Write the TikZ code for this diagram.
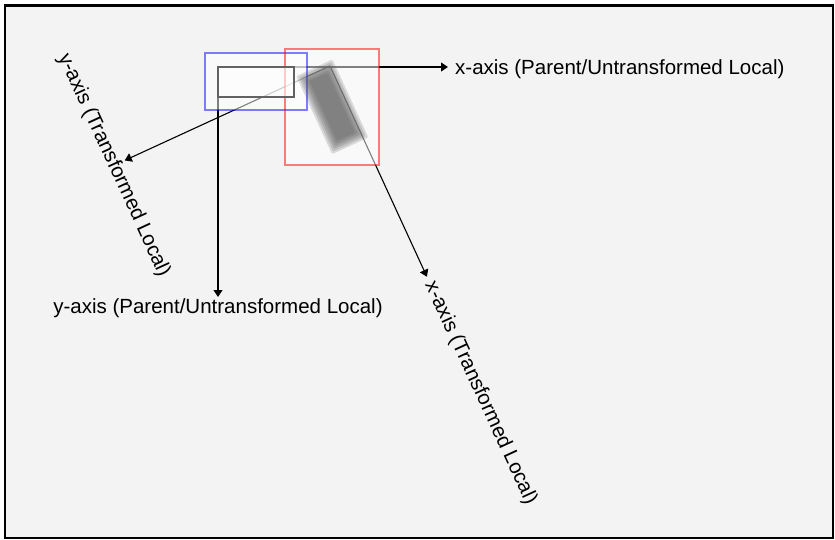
\documentclass[tikz,border=0pt]{standalone}
\usepackage{fontspec}
\setmainfont{Liberation Sans}
\usetikzlibrary{arrows.meta,positioning}

\definecolor{canvasgray}{HTML}{F3F3F3}
\definecolor{rectgray}{HTML}{626262}

\begin{document}
\begin{tikzpicture}[
  x=1pt,
  y=-1pt,
  axis/.style={-{Triangle[length=7pt,width=9pt]}, line width=1.1pt, black},
  axislabel/.style={
    inner sep=0pt,
    font=\fontsize{20.5}{24}\selectfont
  },
  boundsfill/.style={fill=white, fill opacity=0.5},
  boundsline/.style={line width=2.6pt, draw opacity=0.5},
  localrect/.style={
    draw=rectgray,
    line width=2pt,
    fill=white,
    fill opacity=0.6
  },
  shadowlayer/.style={black!65, fill opacity=0.2, rounded corners=2pt}
]

\useasboundingbox (0,0) rectangle (835,540);
\fill[white] (0,0) rectangle (835,540);
\draw[line width=2.6pt, fill=canvasgray] (5,5.5) rectangle (833,538);

% origins of the two frames
\coordinate (porigin) at (218,67);
\coordinate (torigin) at (330,66);
\coordinate (pxend) at (448,67);
\coordinate (pyend) at (218,297);

% parent axes
\draw[axis] (porigin) -- (pxend);
\draw[axis] (porigin) -- (pyend);
\node[axislabel, right=7pt of pxend, yshift=-2pt] (pxlabel) {x-axis (Parent/Untransformed Local)};
\node[axislabel, below=1pt of pyend] (pylabel) {y-axis (Parent/Untransformed Local)};

% transformed axes
\begin{scope}[shift={(torigin)}, rotate=-65.3]
  \coordinate (txend) at (232,0);
  \coordinate (tyend) at (0,226);
  \draw[axis] (torigin) -- (txend);
  \draw[axis] (torigin) -- (tyend);
  \node[axislabel, rotate=-65.3] (txlabel) at (360,0) {x-axis (Transformed Local)};
  \node[axislabel, rotate=-65.3] (tylabel) at (0,238) {y-axis (Transformed Local)};
\end{scope}

% bounding boxes
\fill[boundsfill] (205,53) rectangle (307,110);
\fill[boundsfill] (285,49) rectangle (379,165);
\draw[boundsline, draw=blue] (205,53) rectangle (307,110);
\draw[boundsline, draw=red] (285,49) rectangle (379,165);
\draw[localrect] (porigin) rectangle (294,97);

% blurred copy in the transformed frame
\begin{scope}[shift={(torigin)}, rotate=-65.3]
  \foreach \d [evaluate=\d as \lo using -\d,
               evaluate=\d as \hx using 76+\d,
               evaluate=\d as \hy using 30+\d] in {-5,-3,-1,1,3,5}
    \fill[shadowlayer] (\lo,\lo) rectangle (\hx,\hy);
\end{scope}

\end{tikzpicture}
\end{document}
